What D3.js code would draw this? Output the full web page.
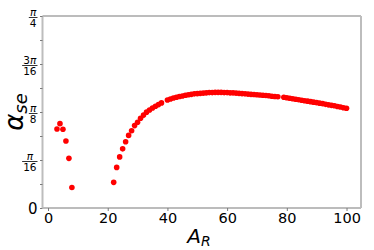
<!DOCTYPE html>
<html lang="en">
<head>
    <meta charset="UTF-8">
    <script src="https://cdn.jsdelivr.net/npm/d3@7"></script>
    <title>alpha_se vs A_R</title>
    <style>
        body { margin: 0; background: white; }
        text { font-family: "DejaVu Sans", sans-serif; }
    </style>
</head>
<body>
    <div id="chart"></div>
    <script>
        // A_R values (39 and 78 are missing in the picture)
        const arValues = [3, 4, 5, 6, 7, 8,
            22, 23, 24, 25, 26, 27, 28, 29, 30, 31, 32, 33, 34, 35, 36, 37, 38,
            40, 41, 42, 43, 44, 45, 46, 47, 48, 49, 50, 51, 52, 53, 54, 55, 56, 57, 58, 59,
            60, 61, 62, 63, 64, 65, 66, 67, 68, 69, 70, 71, 72, 73, 74, 75, 76, 77,
            79, 80, 81, 82, 83, 84, 85, 86, 87, 88, 89, 90, 91, 92, 93, 94, 95, 96, 97, 98, 99, 100]

        // alpha_se in radians
        const alphaValues = [0.323, 0.345, 0.322, 0.274, 0.203, 0.084,
            0.105, 0.166, 0.209, 0.242, 0.271, 0.297, 0.316, 0.337, 0.351, 0.367, 0.380, 0.392, 0.401, 0.409, 0.416, 0.423, 0.430,
            0.442, 0.446, 0.450, 0.453, 0.456, 0.458, 0.461, 0.463, 0.465, 0.467, 0.468, 0.469, 0.470, 0.471, 0.472, 0.472, 0.473, 0.473, 0.473, 0.472,
            0.472, 0.471, 0.471, 0.470, 0.469, 0.468, 0.467, 0.466, 0.465, 0.464, 0.463, 0.462, 0.461, 0.460, 0.459, 0.457, 0.456, 0.455,
            0.453, 0.451, 0.449, 0.447, 0.445, 0.443, 0.441, 0.439, 0.437, 0.435, 0.433, 0.431, 0.429, 0.427, 0.424, 0.422, 0.420, 0.418, 0.415, 0.413, 0.410, 0.408]

        const xTicks = [0, 20, 40, 60, 80, 100]
        const yTicks = [0, Math.PI / 16, Math.PI / 8, 3 * Math.PI / 16, Math.PI / 4]
        const yMinorTicks = [Math.PI / 32, 3 * Math.PI / 32, 5 * Math.PI / 32, 7 * Math.PI / 32]
        const yTickLabels = [["0"], ["π", "16"], ["π", "8"], ["3π", "16"], ["π", "4"]]

        const width = 374, height = 250
        const plot = { left: 42.5, right: 361, top: 16, bottom: 208 }

        const svg = d3.select("#chart").append("svg")
            .attr("width", width)
            .attr("height", height)

        const x = d3.scaleLinear().domain([-1.85, 104.85]).range([plot.left, plot.right])
        const y = d3.scaleLinear().domain([0, Math.PI / 4]).range([plot.bottom, plot.top])

        // frame: top/bottom dark, left/right light
        svg.append("line").attr("x1", plot.left).attr("x2", plot.right).attr("y1", plot.top).attr("y2", plot.top)
            .attr("stroke", "#7a7a7a").attr("stroke-width", 1.2)
        svg.append("line").attr("x1", plot.left).attr("x2", plot.right).attr("y1", plot.bottom).attr("y2", plot.bottom)
            .attr("stroke", "#7a7a7a").attr("stroke-width", 1.2)
        svg.append("line").attr("x1", plot.left).attr("x2", plot.left).attr("y1", plot.top).attr("y2", plot.bottom)
            .attr("stroke", "#bdbdbd").attr("stroke-width", 2)
        svg.append("line").attr("x1", plot.right).attr("x2", plot.right).attr("y1", plot.top).attr("y2", plot.bottom)
            .attr("stroke", "#bdbdbd").attr("stroke-width", 2)

        // x axis
        const xAxis = svg.append("g")
            .attr("transform", `translate(0,${plot.bottom})`)
            .call(d3.axisBottom(x).tickValues(xTicks).tickSize(3).tickPadding(2))
        xAxis.select(".domain").remove()
        xAxis.selectAll(".tick line").attr("stroke", "#7a7a7a")
        xAxis.selectAll(".tick text")
            .attr("font-family", "DejaVu Sans")
            .attr("font-size", 14.5)
            .attr("fill", "black")

        // y axis, major + minor ticks, labels drawn by hand as fractions
        const yAxis = svg.append("g")
            .attr("transform", `translate(${plot.left},0)`)
            .call(d3.axisLeft(y).tickValues(yTicks.concat(yMinorTicks)).tickSize(2.5).tickFormat(""))
        yAxis.select(".domain").remove()
        yAxis.selectAll(".tick line").attr("stroke", "#7a7a7a")

        const labelRight = plot.left - 5
        yTicks.forEach((v, i) => {
            const lab = yTickLabels[i]
            const g = svg.append("g").attr("transform", `translate(${labelRight},${y(v)})`)
            if (lab.length === 1) {
                g.append("text")
                    .attr("x", 0).attr("y", 5.5)
                    .attr("text-anchor", "end")
                    .attr("font-size", 15)
                    .text(lab[0])
            } else {
                const num = g.append("text")
                    .attr("y", -0.5)
                    .attr("text-anchor", "middle")
                    .attr("font-size", 10.5)
                const den = g.append("text")
                    .attr("y", 10.5)
                    .attr("text-anchor", "middle")
                    .attr("font-size", 10.5)
                    .text(lab[1])
                const numStr = lab[0]
                if (numStr.length > 1) {
                    num.append("tspan").text(numStr.slice(0, -1))
                }
                num.append("tspan").attr("font-style", "italic").text("π")
                const w = Math.max(num.node().getComputedTextLength(), den.node().getComputedTextLength()) + 2
                num.attr("x", -w / 2)
                den.attr("x", -w / 2)
                g.append("line")
                    .attr("x1", -w).attr("x2", 0)
                    .attr("y1", 1.5).attr("y2", 1.5)
                    .attr("stroke", "black").attr("stroke-width", 0.8)
            }
        })

        // points
        svg.append("g").selectAll("circle")
            .data(arValues)
            .join("circle")
            .attr("cx", d => x(d))
            .attr("cy", (d, i) => y(alphaValues[i]))
            .attr("r", 2.8)
            .attr("fill", "#ff0000")

        // axis labels
        const xl = svg.append("text")
            .attr("x", 199)
            .attr("y", 243)
            .attr("text-anchor", "middle")
            .attr("font-size", 20)
        xl.append("tspan").attr("font-style", "italic").text("A")
        xl.append("tspan").attr("font-style", "italic").attr("font-size", 14).attr("dy", 3).text("R")

        const yl = svg.append("text")
            .attr("transform", `translate(23,112) rotate(-90)`)
            .attr("text-anchor", "middle")
            .attr("font-size", 26)
        yl.append("tspan").attr("font-style", "italic").text("α")
        yl.append("tspan").attr("font-style", "italic").attr("font-size", 18).attr("dy", 4).text("se")
    </script>
</body>
</html>
